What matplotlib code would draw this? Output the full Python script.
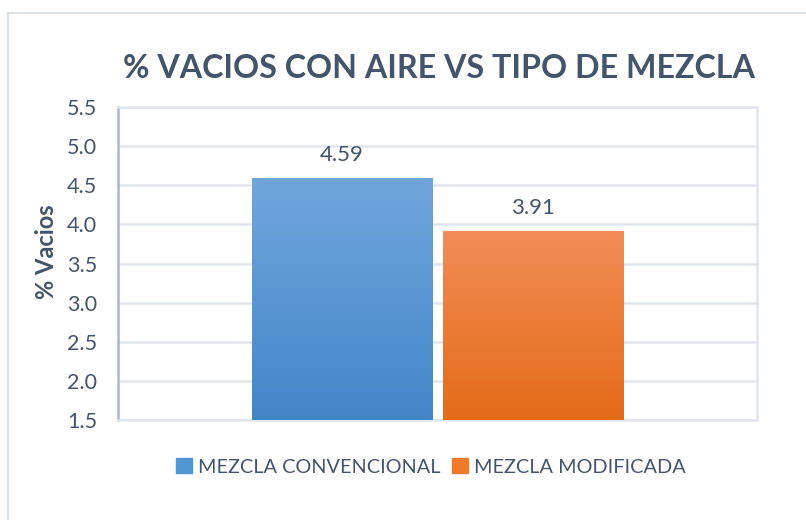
import numpy as np
import matplotlib
matplotlib.use("Agg")
import matplotlib.pyplot as plt
from matplotlib.patches import Rectangle
from matplotlib.colors import LinearSegmentedColormap

# Data
series = ["MEZCLA CONVENCIONAL", "MEZCLA MODIFICADA"]
values = [4.59, 3.91]
yticks = [1.5, 2.0, 2.5, 3.0, 3.5, 4.0, 4.5, 5.0, 5.5]
title = "% VACIOS CON AIRE VS TIPO DE MEZCLA"
ylabel = "% Vacios"

txt = "#44546A"
grid_c = "#E1E5EC"
grads = [("#71A6DB", "#4286C8"), ("#F18D57", "#E46B17")]
legend_c = ["#5196D5", "#EE7A2A"]

fig = plt.figure(figsize=(8.06, 5.2), dpi=100)
plt.rcParams['font.family'] = ['Lato', 'DejaVu Sans']

# outer chart frame
fig.patches.append(Rectangle((8/806, -0.1), 1.2, 1 - 13/520 + 0.1, transform=fig.transFigure,
                             fill=False, edgecolor="#DDE2EA", linewidth=1.5))

ax = fig.add_axes([118/806, 1 - 420/520, (757-118)/806, (420-107)/520])
ax.set_xlim(-0.5, 0.5)
ax.set_ylim(1.5, 5.5)
ax.set_yticks(yticks)
ax.set_yticklabels([f"{t:.1f}" for t in yticks], fontsize=15.5, color=txt)
ax.set_xticks([])
ax.tick_params(axis='y', length=0, pad=15)
ax.yaxis.grid(True, color=grid_c, linewidth=1.8)
ax.set_axisbelow(True)
for s in ["top", "right", "bottom"]:
    ax.spines[s].set_color(grid_c)
    ax.spines[s].set_linewidth(1.8)
ax.spines["left"].set_color("#AAB6CA")
ax.spines["left"].set_linewidth(1.8)

offsets = [-0.1495, 0.1495]
width = 0.2817
for i, (v, off) in enumerate(zip(values, offsets)):
    bars = ax.bar(off, v - 1.5, bottom=1.5, width=width, color=legend_c[i], zorder=2,
                  label=series[i])
    b = bars[0]
    cmap = LinearSegmentedColormap.from_list("g", [grads[i][1], grads[i][0]])
    grad = np.linspace(0, 1, 256).reshape(-1, 1)
    im = ax.imshow(grad, cmap=cmap, aspect='auto', origin='lower',
                   extent=[off - width/2, off + width/2, 1.5, v], zorder=3)
    im.set_clip_path(b)
    ax.text(off, v + 0.17, f"{v:.2f}", ha='center', va='bottom', fontsize=16, color=txt, zorder=4)

ax.set_xlim(-0.5, 0.5)
ax.set_ylim(1.5, 5.5)

fig.text(47/806, 1 - 252/520, ylabel, rotation=90, ha='center', va='center', fontsize=17,
         fontweight='bold', color=txt)

fig.text(439/806, 1 - 69/520, title, ha='center', va='center', fontsize=23.2,
         fontweight='bold', color=txt)

handles = [Rectangle((0, 0), 1, 1, color=c) for c in legend_c]
fig.legend(handles, series, loc='center', bbox_to_anchor=(431/806, 1 - 467/520), ncol=2,
           frameon=False, fontsize=14.3, labelcolor=txt, handlelength=0.8, handleheight=0.8,
           handletextpad=0.3, columnspacing=0.6)

fig.savefig("out.png", dpi=100)
